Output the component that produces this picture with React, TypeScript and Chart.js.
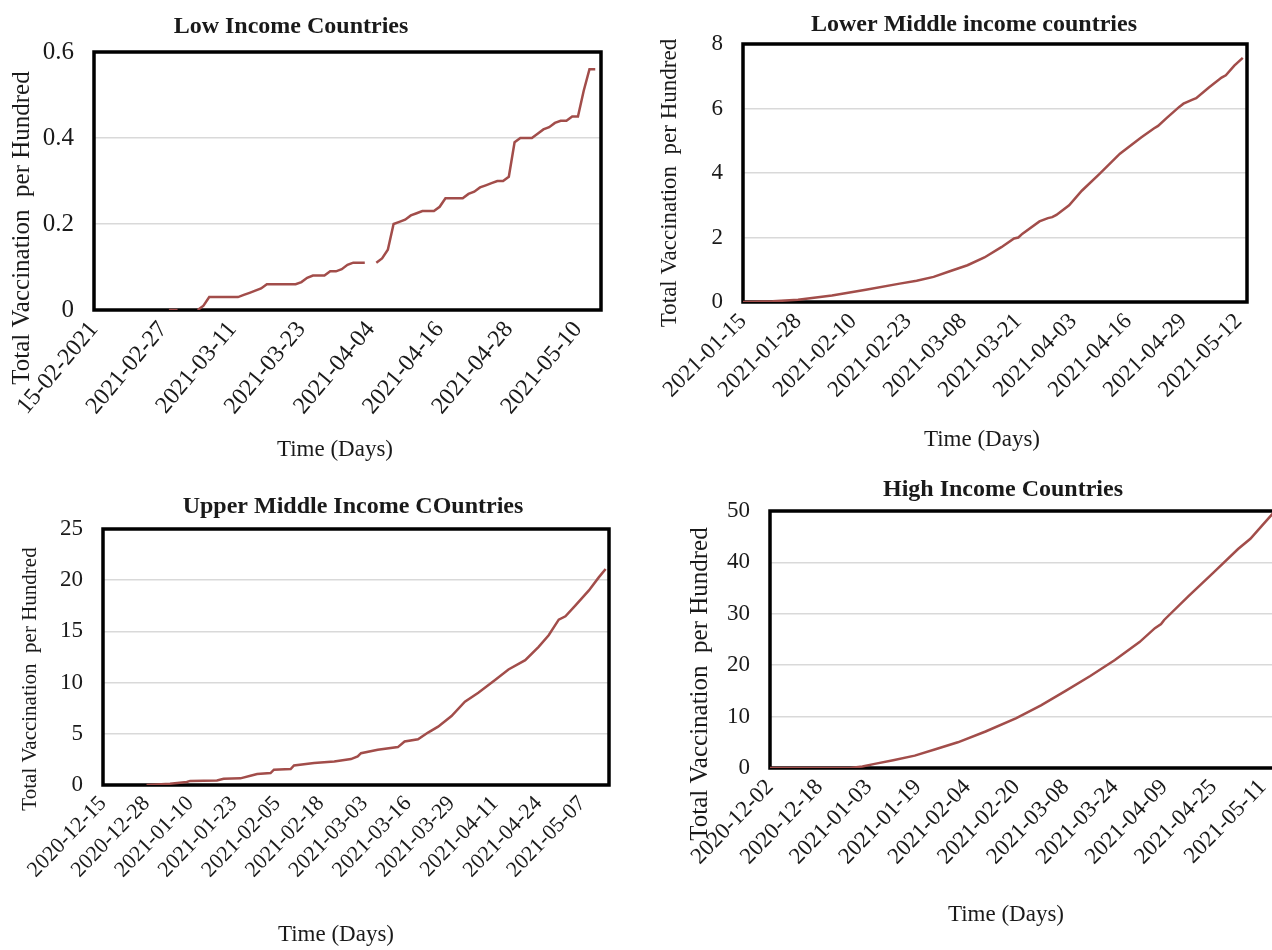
import React, { useEffect, useRef } from 'react';
import { Chart, registerables } from 'chart.js';

Chart.register(...registerables);

const FONT = '"Liberation Serif", "Times New Roman", Times, serif';
const LINE_COLOR = '#A24D4A';

// ---------- Low Income Countries (day 0 = 2021-02-15) ----------
const LOW_DAYS = [13, 14.5, 16, 18, 19, 20, 21, 25, 26, 27, 28, 29, 30, 35, 36, 37, 38, 40, 41, 42, 43, 44, 45, 47, 48, 49, 50, 51, 52, 53, 54, 55, 56, 57, 59, 60, 61, 64, 65, 66, 67, 68, 69, 70, 71, 72, 73, 74, 76, 77, 78, 79, 80, 81, 82, 83, 84, 85, 86, 87];
const LOW_VALUES = [0, 0, null, 0, 0.01, 0.03, 0.03, 0.03, 0.035, 0.04, 0.045, 0.05, 0.06, 0.06, 0.065, 0.075, 0.08, 0.08, 0.09, 0.09, 0.095, 0.105, 0.11, 0.11, null, 0.11, 0.12, 0.14, 0.2, 0.205, 0.21, 0.22, 0.225, 0.23, 0.23, 0.24, 0.26, 0.26, 0.27, 0.275, 0.285, 0.29, 0.295, 0.3, 0.3, 0.31, 0.39, 0.4, 0.4, 0.41, 0.42, 0.425, 0.435, 0.44, 0.44, 0.45, 0.45, 0.51, 0.56, 0.56];
const LOW_TICK_DAYS = [0, 12, 24, 36, 48, 60, 72, 84];
const LOW_TICK_LABELS = ['15-02-2021', '2021-02-27', '2021-03-11', '2021-03-23', '2021-04-04', '2021-04-16', '2021-04-28', '2021-05-10'];

// ---------- Lower Middle income countries (day 0 = 2021-01-15) ----------
const LMIC_DAYS = [0, 7, 13, 21, 29, 37, 41, 45, 49, 53, 57, 61, 64, 65, 66, 70, 72, 73, 74, 77, 80, 84, 89, 94, 97, 98, 100, 103, 104, 106, 107, 110, 113, 114, 116, 118];
const LMIC_VALUES = [0, 0.02, 0.07, 0.2, 0.38, 0.57, 0.66, 0.78, 0.96, 1.14, 1.38, 1.7, 1.97, 2.0, 2.12, 2.5, 2.6, 2.63, 2.7, 3.0, 3.45, 3.95, 4.6, 5.1, 5.38, 5.46, 5.7, 6.05, 6.15, 6.27, 6.32, 6.65, 6.96, 7.03, 7.33, 7.57];
const LMIC_TICK_DAYS = [0, 13, 26, 39, 52, 65, 78, 91, 104, 117];
const LMIC_TICK_LABELS = ['2021-01-15', '2021-01-28', '2021-02-10', '2021-02-23', '2021-03-08', '2021-03-21', '2021-04-03', '2021-04-16', '2021-04-29', '2021-05-12'];

// ---------- Upper Middle Income COuntries (day 0 = 2020-12-15) ----------
const UMIC_DAYS = [13, 16, 20, 25, 26, 30, 34, 36, 41, 44, 46, 50, 51, 56, 57, 63, 69, 74, 76, 77, 82, 88, 90, 94, 97, 100, 104, 108, 112, 117, 121, 126, 130, 133, 136, 138, 141, 145, 148, 150];
const UMIC_VALUES = [0, 0.05, 0.13, 0.3, 0.4, 0.42, 0.45, 0.6, 0.65, 0.9, 1.07, 1.17, 1.5, 1.56, 1.91, 2.14, 2.3, 2.53, 2.8, 3.11, 3.44, 3.7, 4.25, 4.47, 5.12, 5.7, 6.74, 8.14, 9.01, 10.25, 11.28, 12.19, 13.49, 14.62, 16.15, 16.47, 17.54, 19.0, 20.3, 21.1];
const UMIC_TICK_DAYS = [0, 13, 26, 39, 52, 65, 78, 91, 104, 117, 130, 143];
const UMIC_TICK_LABELS = ['2020-12-15', '2020-12-28', '2021-01-10', '2021-01-23', '2021-02-05', '2021-02-18', '2021-03-03', '2021-03-16', '2021-03-29', '2021-04-11', '2021-04-24', '2021-05-07'];

// ---------- High Income Countries (day 0 = 2020-12-02) ----------
const HIC_DAYS = [0, 26, 30, 34, 40, 47, 54, 61, 70, 80, 88, 96, 104, 112, 120, 125, 127, 128, 136, 144, 152, 156, 160, 164];
const HIC_VALUES = [0, 0, 0.3, 0.8, 1.5, 2.4, 3.7, 5.0, 7.1, 9.7, 12.2, 15.0, 17.9, 21.0, 24.5, 27.2, 28.0, 28.8, 33.5, 38.0, 42.6, 44.6, 47.3, 50];
const HIC_TICK_DAYS = [0, 16, 32, 48, 64, 80, 96, 112, 128, 144, 160];
const HIC_TICK_LABELS = ['2020-12-02', '2020-12-18', '2021-01-03', '2021-01-19', '2021-02-04', '2021-02-20', '2021-03-08', '2021-03-24', '2021-04-09', '2021-04-25', '2021-05-11'];

const Y_TITLE = 'Total Vaccination  per Hundred';
const X_TITLE = 'Time (Days)';

type TextItem = { text: string; x: number; y: number; size: number; bold?: boolean; rotate?: number };

type Spec = {
  days: number[];
  values: (number | null)[];
  tickDays: number[];
  tickLabels: string[];
  xMax: number;
  yMax: number;
  yStep: number;
  area: { l: number; t: number; r: number; b: number };
  width: number;
  xFont: number;
  yFont: number;
  rot: number;
  texts: TextItem[];
};

const PAGE_W = 1272;
const PAGE_H = 950;

const SPECS: Spec[] = [
  {
    days: LOW_DAYS, values: LOW_VALUES, tickDays: LOW_TICK_DAYS, tickLabels: LOW_TICK_LABELS,
    xMax: 88, yMax: 0.6, yStep: 0.2,
    area: { l: 94, t: 52, r: 601, b: 310 }, width: PAGE_W,
    xFont: 24, yFont: 25, rot: 50,
    texts: [
      { text: 'Low Income Countries', x: 291, y: 27, size: 24, bold: true },
      { text: Y_TITLE, x: 22, y: 228, size: 25, rotate: -90 },
      { text: X_TITLE, x: 335, y: 450, size: 23 },
    ],
  },
  {
    days: LMIC_DAYS, values: LMIC_VALUES, tickDays: LMIC_TICK_DAYS, tickLabels: LMIC_TICK_LABELS,
    xMax: 119, yMax: 8, yStep: 2,
    area: { l: 743, t: 44, r: 1247, b: 302 }, width: PAGE_W,
    xFont: 23, yFont: 23, rot: 45,
    texts: [
      { text: 'Lower Middle income countries', x: 974, y: 25, size: 24, bold: true },
      { text: Y_TITLE, x: 670, y: 183, size: 23, rotate: -90 },
      { text: X_TITLE, x: 982, y: 440, size: 23 },
    ],
  },
  {
    days: UMIC_DAYS, values: UMIC_VALUES, tickDays: UMIC_TICK_DAYS, tickLabels: UMIC_TICK_LABELS,
    xMax: 151, yMax: 25, yStep: 5,
    area: { l: 103, t: 529, r: 609, b: 785 }, width: PAGE_W,
    xFont: 22, yFont: 23, rot: 46,
    texts: [
      { text: 'Upper Middle Income COuntries', x: 353, y: 507, size: 24, bold: true },
      { text: Y_TITLE, x: 30, y: 679, size: 21, rotate: -90 },
      { text: X_TITLE, x: 336, y: 935, size: 23 },
    ],
  },
  {
    days: HIC_DAYS, values: HIC_VALUES, tickDays: HIC_TICK_DAYS, tickLabels: HIC_TICK_LABELS,
    xMax: 164, yMax: 50, yStep: 10,
    area: { l: 770, t: 511, r: 1275, b: 768 }, width: 1300,
    xFont: 23, yFont: 23, rot: 46,
    texts: [
      { text: 'High Income Countries', x: 1003, y: 490, size: 24, bold: true },
      { text: Y_TITLE, x: 700, y: 684, size: 25, rotate: -90 },
      { text: X_TITLE, x: 1006, y: 915, size: 23 },
    ],
  },
];

const textPlugin = {
  id: 'texts',
  afterDraw(chart: any, _args: any, opts: any) {
    const ctx = chart.ctx;
    for (const t of (opts.items || []) as TextItem[]) {
      ctx.save();
      ctx.font = `${t.bold ? 'bold ' : ''}${t.size}px ${FONT}`;
      ctx.fillStyle = '#1a1a1a';
      ctx.textAlign = 'center';
      ctx.textBaseline = 'middle';
      ctx.translate(t.x, t.y);
      if (t.rotate) ctx.rotate((t.rotate * Math.PI) / 180);
      ctx.fillText(t.text, 0, 0);
      ctx.restore();
    }
  },
};

const framePlugin = {
  id: 'frame',
  beforeDatasetsDraw(chart: any) {
    const { ctx, chartArea } = chart;
    ctx.save();
    ctx.strokeStyle = '#000';
    ctx.lineWidth = 3.5;
    ctx.strokeRect(chartArea.left, chartArea.top, chartArea.right - chartArea.left, chartArea.bottom - chartArea.top);
    ctx.restore();
  },
};

function makeConfig(spec: Spec): any {
  const { l, t, r, b } = spec.area;
  return {
    type: 'line',
    data: {
      datasets: [
        {
          data: spec.days.map((d, i) => ({ x: d, y: spec.values[i] })),
          borderColor: LINE_COLOR,
          borderWidth: 2.5,
          pointRadius: 0,
          tension: 0,
          spanGaps: false,
          fill: false,
        },
      ],
    },
    options: {
      responsive: false,
      animation: false,
      events: [],
      layout: { padding: { left: 0, top: t, right: spec.width - r, bottom: 0 } },
      plugins: {
        legend: { display: false },
        tooltip: { enabled: false },
        title: { display: false },
        texts: { items: spec.texts },
      },
      scales: {
        x: {
          type: 'linear',
          min: 0,
          max: spec.xMax,
          grid: { display: false, drawTicks: false },
          border: { display: false },
          afterBuildTicks: (axis: any) => {
            axis.ticks = spec.tickDays.map((v) => ({ value: v }));
          },
          afterFit: (axis: any) => {
            axis.height = PAGE_H - b;
          },
          ticks: {
            autoSkip: false,
            minRotation: spec.rot,
            maxRotation: spec.rot,
            padding: 6,
            color: '#1a1a1a',
            font: { family: FONT, size: spec.xFont },
            callback: (_v: any, i: number) => spec.tickLabels[i] ?? '',
          },
        },
        y: {
          min: 0,
          max: spec.yMax,
          grid: { color: '#d9d9d9', lineWidth: 1.5, drawTicks: false },
          border: { display: false },
          afterFit: (axis: any) => {
            axis.width = l;
          },
          ticks: {
            stepSize: spec.yStep,
            padding: 20,
            color: '#1a1a1a',
            font: { family: FONT, size: spec.yFont },
          },
        },
      },
    },
    plugins: [framePlugin, textPlugin],
  };
}

function Panel({ spec }: { spec: Spec }) {
  const ref = useRef<HTMLCanvasElement | null>(null);
  useEffect(() => {
    if (!ref.current) return;
    const chart = new Chart(ref.current, makeConfig(spec));
    return () => chart.destroy();
  }, [spec]);
  return (
    <canvas
      ref={ref}
      width={spec.width}
      height={PAGE_H}
      style={{ position: 'absolute', left: 0, top: 0, width: spec.width, height: PAGE_H }}
    />
  );
}

export default function App() {
  return (
    <div
      style={{
        position: 'fixed',
        left: 0,
        top: 0,
        width: PAGE_W,
        height: PAGE_H,
        overflow: 'hidden',
        background: '#fff',
      }}
    >
      {SPECS.map((s, i) => (
        <Panel key={i} spec={s} />
      ))}
    </div>
  );
}
